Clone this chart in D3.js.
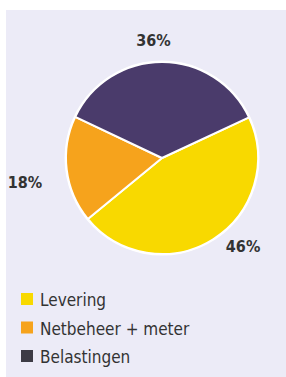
<!DOCTYPE html>
<html>
<head>
<meta charset="utf-8">
<script src="https://cdn.jsdelivr.net/npm/d3@7"></script>
<style>
  body { margin: 0; background: #fff; }
  svg { display: block; }
</style>
</head>
<body>
<div id="chart"></div>
<script>
const categories = ["Levering", "Netbeheer + meter", "Belastingen"];
const values = [46, 18, 36];
const labels = ["46%", "18%", "36%"];
const colors = ["#f8d900", "#f6a31c", "#4a3b6b"];

const width = 286, height = 377;
const cx = 162, cy = 158, radius = 96;

const svg = d3.select("#chart").append("svg").attr("width", width).attr("height", height);

// light panel behind the chart
svg.append("rect").attr("x", 6).attr("y", 10).attr("width", width - 6).attr("height", height - 10)
  .attr("fill", "#ecebf7");

const startAngle = 65 * Math.PI / 180;
const pie = d3.pie().sort(null).startAngle(startAngle).endAngle(startAngle + 2 * Math.PI);
const arcs = pie(values);
const arc = d3.arc().innerRadius(0).outerRadius(radius);

const g = svg.append("g").attr("transform", `translate(${cx},${cy})`);
g.append("circle").attr("r", radius + 1.5).attr("fill", "#fff");
g.selectAll("path").data(arcs).enter().append("path")
  .attr("d", arc)
  .attr("fill", (d, i) => colors[i])
  .attr("stroke", "#fff")
  .attr("stroke-width", 2)
  .attr("stroke-linejoin", "round");

// percentage labels outside the pie
const labelArc = d3.arc().innerRadius(radius + 28).outerRadius(radius + 28);
const offsets = [[15, -11], [-14, 15], [-9, 12]];
g.selectAll("text.pct").data(arcs).enter().append("text")
  .attr("class", "pct")
  .attr("x", (d, i) => labelArc.centroid(d)[0] + offsets[i][0])
  .attr("y", (d, i) => labelArc.centroid(d)[1] + offsets[i][1])
  .attr("text-anchor", "middle")
  .style("font-family", "'DejaVu Sans Condensed', 'DejaVu Sans', sans-serif")
  .style("font-weight", "bold")
  .style("font-size", "16px")
  .style("fill", "#333")
  .text((d, i) => labels[i]);

// legend
const legend = svg.append("g").attr("transform", "translate(21,293)");
const row = legend.selectAll("g").data(categories).enter().append("g")
  .attr("transform", (d, i) => `translate(0,${i * 28.5})`);
row.append("rect").attr("width", 12).attr("height", 12)
  .attr("fill", (d, i) => i === 2 ? "#3d3b45" : colors[i]);
row.append("text").attr("x", 19).attr("y", 13)
  .style("font-family", "'DejaVu Sans Condensed', 'DejaVu Sans', sans-serif")
  .style("font-size", "17px")
  .style("fill", "#333")
  .text(d => d);
</script>
</body>
</html>
